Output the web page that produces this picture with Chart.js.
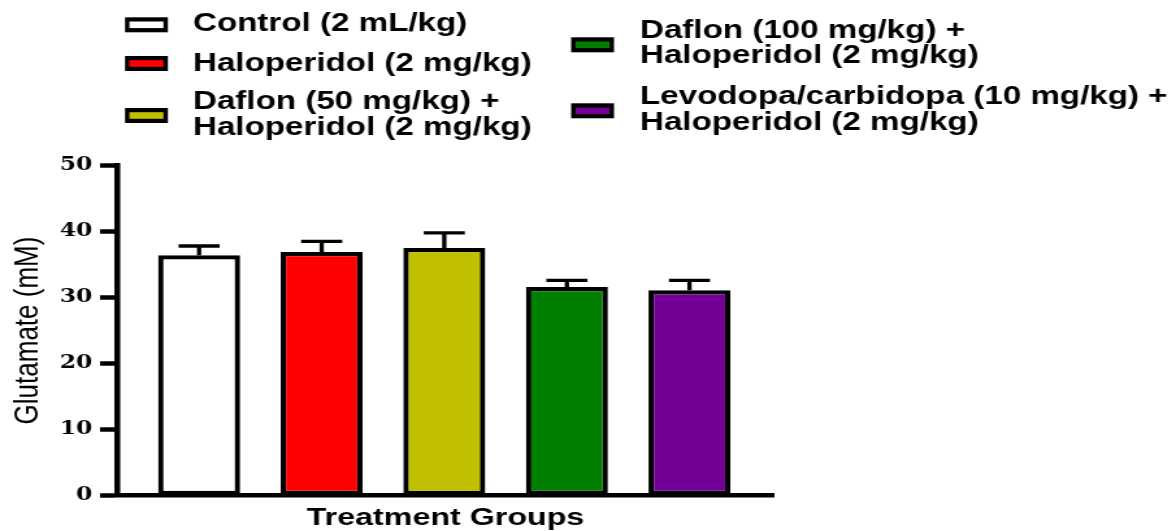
<!DOCTYPE html>
<html>
<head>
<meta charset="utf-8">
<title>Glutamate by treatment group</title>
<script src="https://cdn.jsdelivr.net/npm/chart.js@4/dist/chart.umd.min.js"></script>
<style>
  html, body { margin: 0; padding: 0; background: #ffffff; }
</style>
</head>
<body>
<!-- drawing surface is 905 px wide, shown 1176 px wide (horizontally widened figure) -->
<canvas id="chart" width="905" height="531" style="display:block;width:1176px;height:531px"></canvas>
<script>
// Treatment groups (legend text, one array entry per printed line)
const groupLabels = [
  ['Control (2 mL/kg)'],
  ['Haloperidol (2 mg/kg)'],
  ['Daflon (50 mg/kg) +', 'Haloperidol (2 mg/kg)'],
  ['Daflon (100 mg/kg) +', 'Haloperidol (2 mg/kg)'],
  ['Levodopa/carbidopa (10 mg/kg) +', 'Haloperidol (2 mg/kg)']
];
const groupPositions = [0, 1, 2, 3, 4];

// Glutamate (mM): mean and SEM per group
const glutamateMean = [36.4, 36.9, 37.5, 31.6, 31.1];
const glutamateSEM  = [1.4, 1.6, 2.3, 1.0, 1.5];

// Y axis ticks
const yTickValues = [0, 10, 20, 30, 40, 50];

const barColors = ['#ffffff', '#ff0000', '#c0c000', '#007f00', '#730096'];

// Upward SEM whiskers with caps
const errorBars = {
  id: 'errorBars',
  afterDatasetsDraw(chart) {
    const xs = chart.scales.x, ys = chart.scales.y;
    const ctx = chart.ctx;
    ctx.save();
    ctx.strokeStyle = '#000';
    ctx.lineWidth = 3.3;
    ctx.lineCap = 'butt';
    glutamateMean.forEach((m, i) => {
      const x = xs.getPixelForValue(groupPositions[i]);
      const yBar = ys.getPixelForValue(m);
      const yTop = ys.getPixelForValue(m + glutamateSEM[i]);
      ctx.beginPath();
      ctx.moveTo(x, yBar);
      ctx.lineTo(x, yTop);
      ctx.moveTo(x - 15.8, yTop);
      ctx.lineTo(x + 15.8, yTop);
      ctx.stroke();
    });
    ctx.restore();
  }
};

// Two-column legend above the plot
const groupLegend = {
  id: 'groupLegend',
  afterDraw(chart) {
    const ctx = chart.ctx;
    // [swatch x, text x, swatch centre y, first line centre y]
    const slots = [
      [96.2, 148.5, 24.8, 23.5],
      [96.2, 148.5, 63.5, 63.5],
      [96.2, 148.5, 115.5, 102],
      [439.5, 492.5, 44.8, 30.5],
      [439.5, 492.5, 110.8, 97]
    ];
    const lineStep = 25.5;
    ctx.save();
    ctx.font = 'bold 25.5px "Liberation Sans", Arial, sans-serif';
    ctx.textAlign = 'left';
    ctx.textBaseline = 'middle';
    groupLabels.forEach((lines, i) => {
      const [sx, tx, sy, ty] = slots[i];
      const w = 33, h = 15;
      ctx.fillStyle = '#000';
      ctx.fillRect(sx, sy - h / 2, w, h);
      ctx.fillStyle = barColors[i];
      ctx.fillRect(sx + 3.4, sy - h / 2 + 4.2, w - 6.8, h - 8.4);
      ctx.fillStyle = '#000';
      lines.forEach((t, k) => ctx.fillText(t, tx, ty + k * lineStep));
    });
    ctx.restore();
  }
};

new Chart(document.getElementById('chart'), {
  type: 'bar',
  data: {
    datasets: [{
      label: 'Glutamate (mM)',
      data: glutamateMean.map((y, i) => ({ x: groupPositions[i], y })),
      backgroundColor: barColors,
      borderColor: '#000',
      borderWidth: 4.2,
      borderSkipped: false,
      barPercentage: 0.669,
      categoryPercentage: 1.0
    }]
  },
  options: {
    responsive: false,
    devicePixelRatio: 1,
    animation: false,
    layout: { padding: { top: 165.5, left: 0, right: 309.3, bottom: 0 } },
    plugins: {
      legend: { display: false },
      tooltip: { enabled: false }
    },
    scales: {
      x: {
        type: 'linear',
        offset: false,
        min: -0.67,
        max: 4.69,
        afterBuildTicks(scale) { scale.ticks = groupPositions.map(v => ({ value: v })); },
        ticks: { display: false },
        grid: { display: false, offset: false },
        border: { display: true, color: '#000', width: 4.5 },
        title: {
          display: true,
          text: 'Treatment Groups',
          color: '#000',
          font: { family: '"Liberation Sans", Arial, sans-serif', size: 24.8, weight: 'bold', lineHeight: 1 },
          padding: { top: 0, bottom: 0.6 }
        },
        afterFit(scale) { scale.height = 35.5; }
      },
      y: {
        min: 0,
        max: 50,
        afterBuildTicks(scale) { scale.ticks = yTickValues.map(v => ({ value: v })); },
        ticks: {
          color: '#000',
          padding: 6,
          font: { family: '"DejaVu Serif", serif', size: 18, weight: 'bold' }
        },
        grid: {
          display: true,
          drawOnChartArea: false,
          drawTicks: true,
          tickLength: 13,
          tickWidth: 4.5,
          tickColor: '#000'
        },
        border: { display: true, color: '#000', width: 4.5 },
        title: {
          display: true,
          text: 'Glutamate (mM)',
          color: '#000',
          font: { family: '"Liberation Sans", Arial, sans-serif', size: 26, weight: 'normal' },
          padding: { top: 6, bottom: 0 }
        },
        afterFit(scale) { scale.width = 90; }
      }
    }
  },
  plugins: [errorBars, groupLegend]
});
</script>
</body>
</html>
